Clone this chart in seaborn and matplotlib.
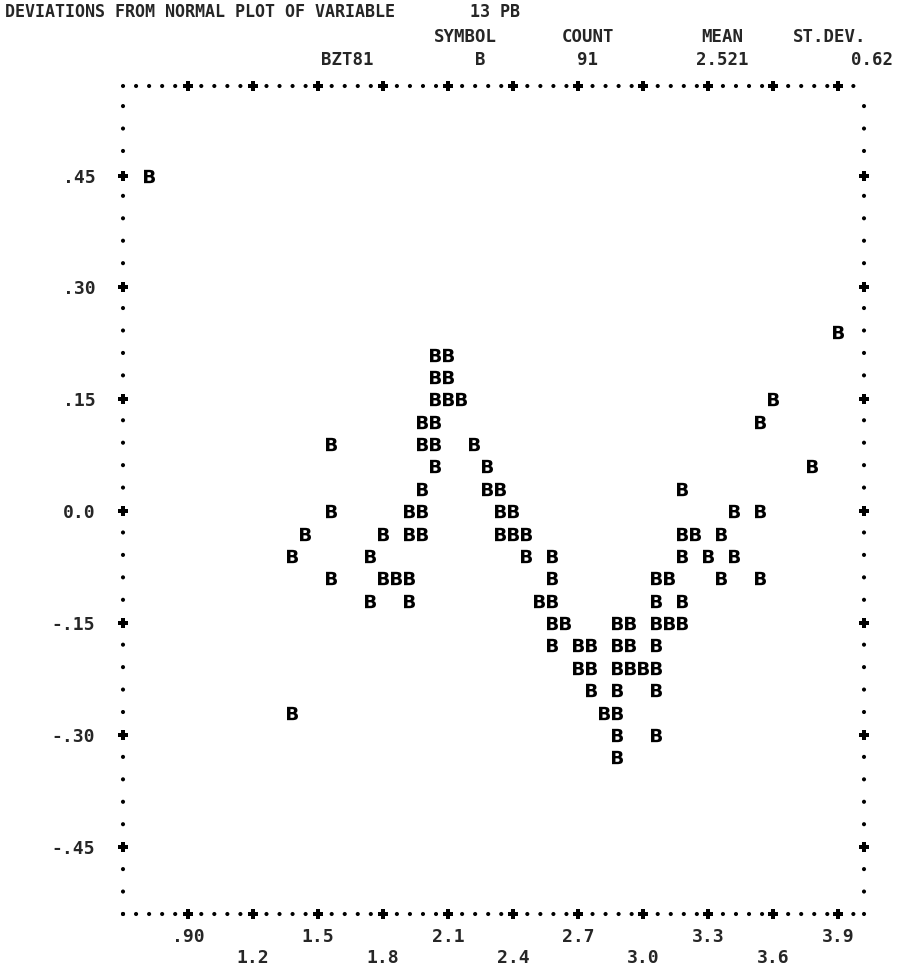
import matplotlib
matplotlib.use("Agg")
import matplotlib.pyplot as plt
import seaborn as sns

# valores (desvio em relacao a reta normal), uma linha de impressora por comentario
x_vals = [0.72,                                                   # .45
          3.90,                                                   # .24
          2.04, 2.10,                                             # .21
          2.04, 2.10,                                             # .18
          2.04, 2.10, 2.16, 3.60,                                 # .15
          1.98, 2.04, 3.54,                                       # .12
          1.56, 1.98, 2.04, 2.22,                                 # .09
          2.04, 2.28, 3.78,                                       # .06
          1.98, 2.28, 2.34, 3.18,                                 # .03
          1.56, 1.92, 1.98, 2.34, 2.40, 3.42, 3.54,               # .00
          1.44, 1.80, 1.92, 1.98, 2.34, 2.40, 2.46, 3.18, 3.24, 3.36,  # -.03
          1.38, 1.74, 2.46, 2.58, 3.18, 3.30, 3.42,               # -.06
          1.56, 1.80, 1.86, 1.92, 2.58, 3.06, 3.12, 3.36, 3.54,   # -.09
          1.74, 1.92, 2.52, 2.58, 3.06, 3.18,                     # -.12
          2.58, 2.64, 2.88, 2.94, 3.06, 3.12, 3.18,               # -.15
          2.58, 2.70, 2.76, 2.88, 2.94, 3.06,                     # -.18
          2.70, 2.76, 2.88, 2.94, 3.00, 3.06,                     # -.21
          2.76, 2.88, 3.06,                                       # -.24
          1.38, 2.82, 2.88,                                       # -.27
          2.88, 3.06,                                             # -.30
          2.88]                                                   # -.33
y_vals = ([0.45] * 1 + [0.24] * 1 + [0.21] * 2 + [0.18] * 2 + [0.15] * 4 + [0.12] * 3
          + [0.09] * 4 + [0.06] * 3 + [0.03] * 4 + [0.00] * 7 + [-0.03] * 10 + [-0.06] * 7
          + [-0.09] * 9 + [-0.12] * 6 + [-0.15] * 7 + [-0.18] * 6 + [-0.21] * 6
          + [-0.24] * 3 + [-0.27] * 3 + [-0.30] * 2 + [-0.33] * 1)

x_ticks = [0.90, 1.20, 1.50, 1.80, 2.10, 2.40, 2.70, 3.00, 3.30, 3.60, 3.90]
x_ticklabels = [".90", "1.2", "1.5", "1.8", "2.1", "2.4", "2.7", "3.0", "3.3", "3.6", "3.9"]
y_ticks = [0.45, 0.30, 0.15, 0.0, -0.15, -0.30, -0.45]
y_ticklabels = [".45", ".30", ".15", "0.0", "-.15", "-.30", "-.45"]

sns.set_theme(style="white")
plt.rcParams["font.family"] = ["DejaVu Sans Mono"]
plt.rcParams["font.weight"] = "bold"

W, H = 900, 973
fig = plt.figure(figsize=(W / 100, H / 100), dpi=100)
ax = fig.add_axes([123 / W, 1 - 914 / H, 741 / W, 828 / H])

sns.scatterplot(x=x_vals, y=y_vals, marker=r"$\mathbf{B}$", s=92, color="black",
                linewidth=0, ax=ax, legend=False)

xmin, xmax = 0.60, 4.02
ymin, ymax = -0.54, 0.57
ax.set_xlim(xmin, xmax)
ax.set_ylim(ymin, ymax)
ax.set_xticks(x_ticks)
ax.set_xticklabels([("" if i % 2 == 0 else "\n") + t for i, t in enumerate(x_ticklabels)])
ax.set_yticks(y_ticks)
ax.set_yticklabels(y_ticklabels)
ax.tick_params(axis="both", length=0, labelsize=13)
ax.tick_params(axis="x", pad=10)
ax.tick_params(axis="y", pad=20)
ax.set_xlabel("")
ax.set_ylabel("")

# borda pontilhada como na impressora de linha
for lado, passo in [("top", 13), ("bottom", 13), ("left", 22.4), ("right", 22.4)]:
    sp = ax.spines[lado]
    sp.set_visible(True)
    sp.set_color("black")
    sp.set_linewidth(3)
    sp.set_linestyle((0, (0.01, passo * 0.72 / 3)))
    sp.set_capstyle("round")

# sinais "+" nas marcas de escala
mais = dict(ls="none", marker="P", ms=7, color="black", mew=0, clip_on=False)
for yb in (ymin, ymax):
    ax.plot(x_ticks, [yb] * len(x_ticks), **mais)
for xb in (xmin, xmax):
    ax.plot([xb] * len(y_ticks), y_ticks, **mais)

# cabecalho
fs = 12.5
fig.text(5 / W, 1 - 12 / H, "DEVIATIONS FROM NORMAL PLOT OF VARIABLE", fontsize=12, va="center", ha="left")
fig.text(470 / W, 1 - 12 / H, "13 PB", fontsize=12, va="center", ha="left")
for txt, xc in [("SYMBOL", 465), ("COUNT", 588), ("MEAN", 722), ("ST.DEV.", 830)]:
    fig.text(xc / W, 1 - 37 / H, txt, fontsize=fs, va="center", ha="center")
for txt, xc in [("BZT81", 347), ("B", 480), ("91", 588), ("2.521", 722), ("0.62", 872)]:
    fig.text(xc / W, 1 - 60 / H, txt, fontsize=fs, va="center", ha="center")

fig.savefig("out.png", dpi=100, facecolor="white")
